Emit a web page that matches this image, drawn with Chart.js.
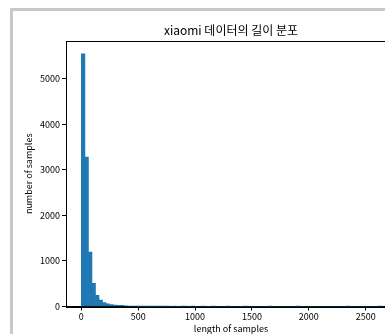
<!DOCTYPE html>
<html>
<head>
<meta charset="utf-8">
<script src="https://cdn.jsdelivr.net/npm/chart.js@4"></script>
<style>
  html, body { margin: 0; padding: 0; background: #fff; overflow: hidden; }
  #wrap { position: relative; width: 385px; height: 334px; overflow: hidden; }
  #frame { position: absolute; left: 10px; top: 8px; width: 420px; height: 360px;
           border-left: 3px solid #c8c8c8; border-top: 3px solid #c8c8c8; }
  #chart { position: absolute; left: 0; top: 0; }
</style>
</head>
<body>
<div id="wrap">
  <div id="frame"></div>
  <canvas id="chart" width="396" height="334"></canvas>
</div>
<script>
// histogram of sample lengths: bins start at 1, each 31 wide
const binStart = 1;
const binWidth = 31;
const counts = [
  5550, 3280, 1195, 510, 245, 140, 85, 58, 42, 32,
  24, 28, 12, 8, 6, 5, 4, 3, 3, 2,
  2, 1, 1, 1, 1, 0, 1, 0, 1, 1,
  0, 1, 0, 0, 1, 0, 0, 1, 0, 0,
  0, 1, 0, 0, 0, 0, 1, 0, 0, 0,
  0, 0, 0, 1, 0, 0, 0, 0, 0, 0,
  0, 1, 0, 0, 0, 0, 0, 0, 0, 0,
  0, 0, 0, 0, 0, 1, 0, 0, 0, 0,
  0, 0, 0, 0, 1
];
const xTicks = [0, 500, 1000, 1500, 2000, 2500];
const yTicks = [0, 1000, 2000, 3000, 4000, 5000];

const FONT = '"Noto Sans CJK KR", "Noto Sans", sans-serif';

const points = counts.map((c, i) => ({ x: binStart + binWidth * (i + 0.5), y: c }));

// matplotlib-like box around the axes
const spines = {
  id: 'spines',
  afterDraw(chart) {
    const { ctx, chartArea: a } = chart;
    ctx.save();
    ctx.strokeStyle = '#000';
    ctx.lineWidth = 1;
    ctx.strokeRect(Math.round(a.left) + 0.5, Math.round(a.top) + 0.5,
                   Math.round(a.right - a.left), Math.round(a.bottom - a.top));
    ctx.restore();
  }
};

new Chart(document.getElementById('chart'), {
  type: 'bar',
  data: {
    datasets: [{
      data: points,
      backgroundColor: '#1f77b4',
      borderWidth: 0,
      barPercentage: 1,
      categoryPercentage: 1
    }]
  },
  options: {
    responsive: false,
    animation: false,
    devicePixelRatio: 1,
    layout: { padding: { left: 0, right: 0, top: 0, bottom: 0 } },
    plugins: {
      legend: { display: false },
      tooltip: { enabled: false },
      title: {
        display: true,
        text: 'xiaomi 데이터의 길이 분포',
        fullSize: false,
        color: '#000',
        font: { family: FONT, size: 12, weight: 'normal' },
        padding: { top: 23, bottom: 3.6 }
      }
    },
    scales: {
      x: {
        type: 'linear',
        min: -134,
        max: 2766,
        offset: false,
        afterBuildTicks: s => { s.ticks = xTicks.map(v => ({ value: v })); },
        afterFit: s => { s.height = 27.5; },
        grid: { drawOnChartArea: false, drawTicks: true, tickLength: 4, color: '#000', offset: false },
        border: { display: true, color: '#000', width: 1 },
        ticks: { color: '#000', font: { family: FONT, size: 9 }, padding: 1, maxRotation: 0, autoSkip: false,
                 callback: v => String(v) },
        title: { display: true, text: 'length of samples', color: '#000', font: { family: FONT, size: 9 }, padding: 0 }
      },
      y: {
        min: 0,
        max: 5830,
        afterBuildTicks: s => { s.ticks = yTicks.map(v => ({ value: v })); },
        afterFit: s => { s.width = 66; },
        grid: { drawOnChartArea: false, drawTicks: true, tickLength: 4, color: '#000' },
        border: { display: true, color: '#000', width: 1 },
        ticks: { color: '#000', font: { family: FONT, size: 9 }, padding: 2, callback: v => String(v) },
        title: { display: true, text: 'number of samples', color: '#000', font: { family: FONT, size: 9 }, padding: { top: 23, bottom: 0 } }
      }
    }
  },
  plugins: [spines]
});
</script>
</body>
</html>
